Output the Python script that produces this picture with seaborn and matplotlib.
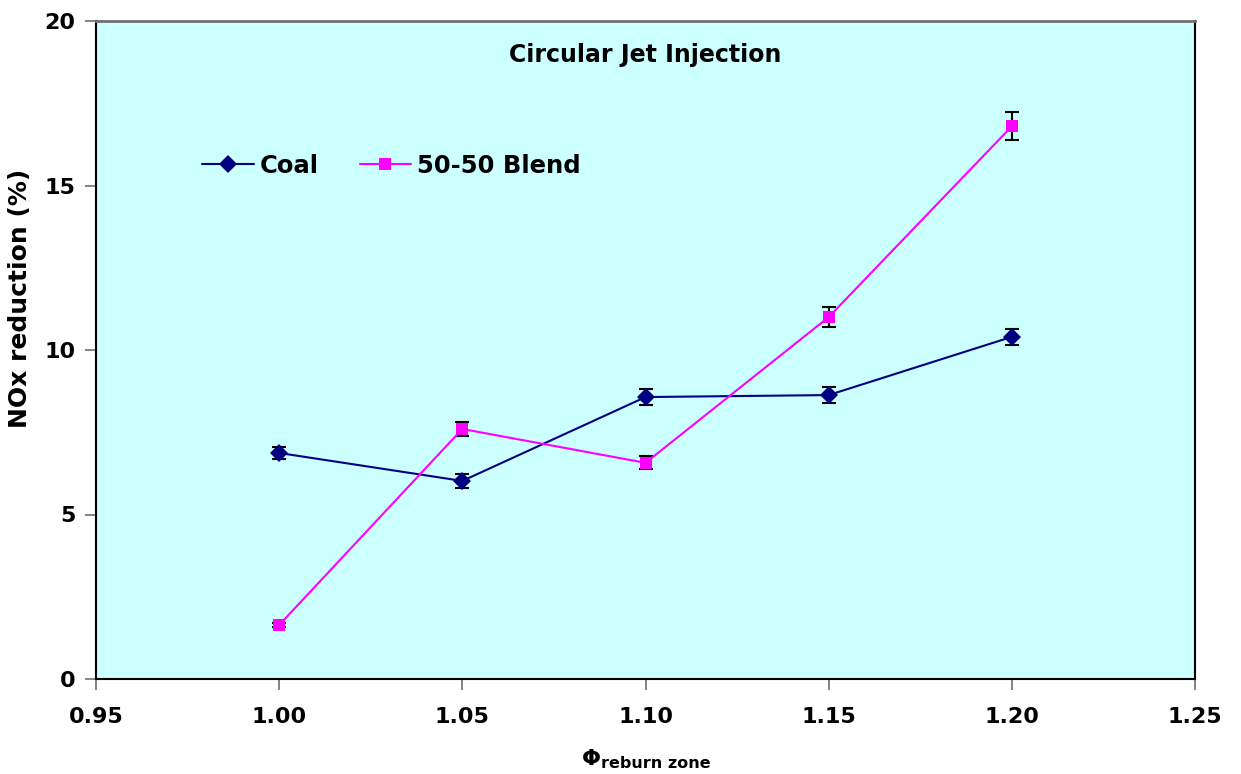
import matplotlib
matplotlib.use("Agg")
import matplotlib.pyplot as plt
import seaborn as sns
import pandas as pd

# Data
phi = [1.00, 1.05, 1.10, 1.15, 1.20]
coal = [6.87, 6.02, 8.57, 8.63, 10.40]
coal_err = [0.18, 0.20, 0.25, 0.25, 0.25]
blend = [1.64, 7.60, 6.57, 11.00, 16.80]
blend_err = [0.05, 0.20, 0.20, 0.30, 0.43]
series_names = ["Coal", "50-50 Blend"]
x_ticks = [0.95, 1.00, 1.05, 1.10, 1.15, 1.20, 1.25]
y_ticks = [0, 5, 10, 15, 20]

sns.set_theme(style="white")
plt.rcParams['font.family'] = ['DejaVu Sans']
plt.rcParams['text.color'] = 'black'
plt.rcParams['axes.labelcolor'] = 'black'
plt.rcParams['xtick.color'] = 'black'
plt.rcParams['ytick.color'] = 'black'

fig = plt.figure(figsize=(12.41, 7.74), dpi=100)
ax = fig.add_axes([96/1241, 1-679/774, (1195-96)/1241, (679-21)/774])
ax.set_facecolor("#CCFFFF")

df = pd.concat([
    pd.DataFrame({"phi": phi, "val": coal, "series": series_names[0]}),
    pd.DataFrame({"phi": phi, "val": blend, "series": series_names[1]}),
])
palette = {series_names[0]: "#000080", series_names[1]: "#FF00FF"}

for vals, errs in [(coal, coal_err), (blend, blend_err)]:
    ax.errorbar(phi, vals, yerr=errs, fmt="none", ecolor="black",
                elinewidth=1.5, capsize=5, capthick=1.5, zorder=2)

sns.lineplot(data=df, x="phi", y="val", hue="series", style="series",
             markers={series_names[0]: "D", series_names[1]: "s"},
             dashes=False, palette=palette, ax=ax, linewidth=1.5,
             markersize=8.5, markeredgewidth=0, zorder=3)
# enlarge diamonds slightly
for ln in ax.lines:
    if ln.get_marker() == "D":
        ln.set_markersize(9.5)

ax.set_xlim(0.95, 1.25)
ax.set_ylim(0, 20)
ax.set_xticks(x_ticks)
ax.set_xticklabels([f"{t:.2f}" for t in x_ticks])
ax.set_yticks(y_ticks)
ax.set_yticklabels([str(t) for t in y_ticks])
ax.tick_params(axis="both", which="major", direction="out", length=8,
               width=1.2, color="#707070", labelcolor="black", labelsize=16,
               bottom=True, left=True)
for lab in ax.get_xticklabels() + ax.get_yticklabels():
    lab.set_fontweight("bold")
ax.tick_params(axis="x", pad=12)
ax.tick_params(axis="y", pad=7)

for side in ["left", "bottom", "right"]:
    ax.spines[side].set_color("black")
    ax.spines[side].set_linewidth(1.5)
ax.spines["top"].set_color("#707070")
ax.spines["top"].set_linewidth(2)

ax.set_xlabel("")
ax.set_ylabel("NOx reduction (%)", fontsize=18, fontweight="bold", color="black")
ax.yaxis.set_label_coords(-0.058, 0.578)

ax.text(0.5, 0.948, "Circular Jet Injection", transform=ax.transAxes,
        ha="center", va="center", fontsize=17, fontweight="bold", color="black")

handles, labels = ax.get_legend_handles_labels()
leg = ax.legend(handles, labels, loc="center left", bbox_to_anchor=(0.077, 0.78),
                ncol=2, frameon=False, prop={"weight": "bold", "size": 17.5},
                handlelength=2.1, columnspacing=1.7, handletextpad=0.25)
for t in leg.get_texts():
    t.set_color("black")

fig.text(591/1241, 1-759/774, "Φ", fontsize=16, fontweight="bold",
         ha="center", va="center", color="black")
fig.text(601/1241, 1-764/774, "reburn zone", fontsize=11.5, fontweight="bold",
         ha="left", va="center", color="black")

fig.savefig("out.png", dpi=100, facecolor="white")
